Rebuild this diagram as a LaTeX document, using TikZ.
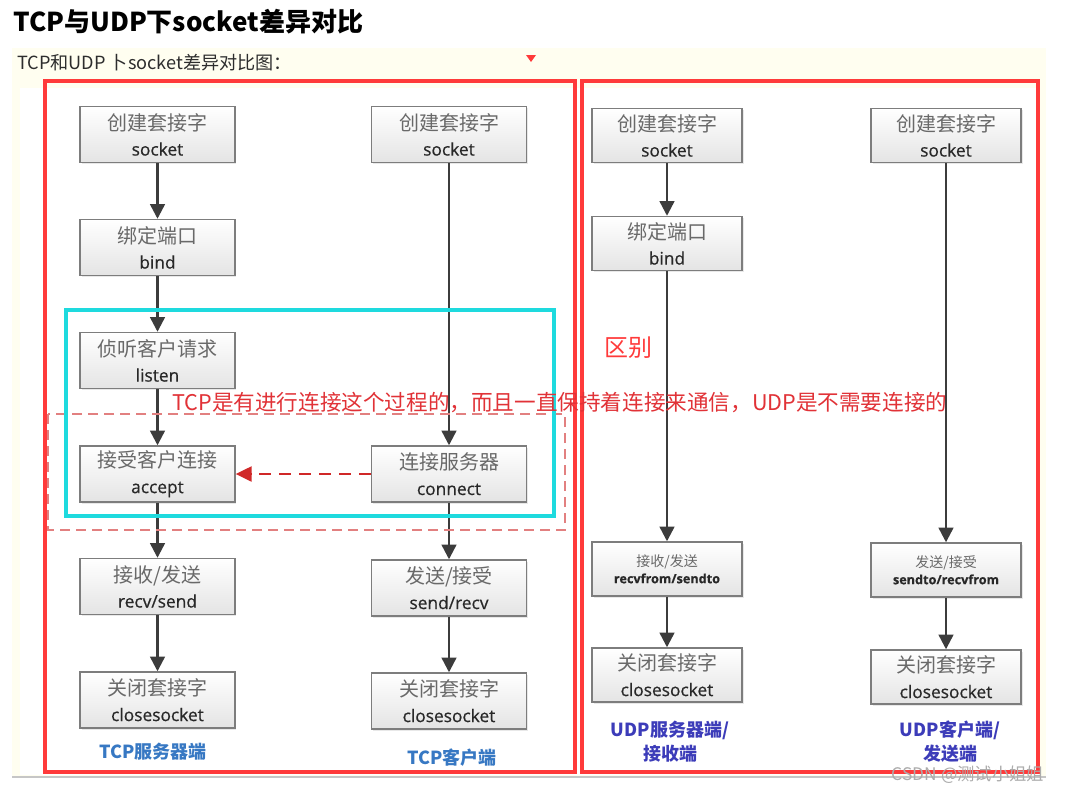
\documentclass[tikz,border=0pt]{standalone}
\usepackage{fontspec}
\setmainfont{Noto Sans CJK SC}
\newfontfamily\latf{Open Sans}[FakeBold=0.6]
\usetikzlibrary{arrows.meta,shadows}
\definecolor{framered}{RGB}{255,58,58}
\definecolor{cream}{RGB}{255,254,240}
\definecolor{cyanc}{RGB}{30,218,222}
\definecolor{pinkd}{RGB}{226,128,128}
\definecolor{dred}{RGB}{208,40,40}
\definecolor{annred}{RGB}{225,50,55}
\definecolor{boxborder}{RGB}{125,125,125}
\definecolor{boxbottom}{RGB}{228,228,228}
\definecolor{cngray}{RGB}{105,105,105}
\definecolor{entext}{RGB}{40,40,40}
\definecolor{arrowc}{RGB}{60,60,60}
\definecolor{tcpblue}{RGB}{55,120,195}
\definecolor{udpblue}{RGB}{60,60,185}
\definecolor{subgray}{RGB}{45,45,45}
\newcommand\cnt[1]{{\color{cngray}#1}}
\newcommand\ent[1]{{\latf\fontsize{13}{19}\selectfont\color{entext}#1}}
\newcommand\cns[1]{{\color{cngray}\fontsize{10.5}{12}\selectfont#1}}
\newcommand\ens[1]{{\latf\bfseries\fontsize{9.5}{12}\selectfont\color{entext}#1}}
\tikzset{
  box/.style={draw=boxborder, line width=1.1pt, top color=white, bottom color=boxbottom,
    minimum width=116pt, minimum height=42pt, inner sep=0pt, align=center,
    drop shadow={opacity=0.18, shadow xshift=1.2pt, shadow yshift=-1.2pt},
    font=\fontsize{15}{19}\selectfont},
  sbox/.style={box, minimum width=112.5pt, minimum height=40.5pt, font=\fontsize{10.5}{12.5}\selectfont},
  arr/.style={draw=arrowc, line width=1.8pt, -{Triangle[width=11pt,length=11pt]}},
  redarr/.style={draw=dred, line width=2.2pt, dash pattern=on 9pt off 6pt, -{Triangle[width=11pt,length=12pt]}},
  collab/.style={font=\bfseries\fontsize{13.5}{18}\selectfont, align=center, inner sep=0pt},
}
\begin{document}
\begin{tikzpicture}[x=0.75pt,y=-0.75pt]
\useasboundingbox (0,0) rectangle (1070,794);
\fill[white] (0,0) rectangle (1070,794);
\fill[cream] (12,48) rectangle (1046,777);
\fill[white] (20,88) rectangle (1040,775);
\draw[gray!45, line width=0.8pt] (12,777) -- (1046,777);

% title and subtitle
\node[anchor=west, inner sep=0pt, font=\bfseries\fontsize{19.5}{22}\selectfont] (title) at (13,22) {TCP与UDP下socket差异对比};
\node[anchor=west, inner sep=0pt, text=subgray, font=\fontsize{13.6}{15}\selectfont] (sub) at (17,63) {TCP和UDP 卜socket差异对比图：};
\fill[framered] (526,55) -- (536,55) -- (531,62) -- cycle;

% TCP server
\node[box] (s1) at (157.5,134.5) {\cnt{创建套接字}\\\ent{socket}};
\node[box] (b1) at (157.5,247.5) {\cnt{绑定端口}\\\ent{bind}};
\node[box] (l1) at (157.5,360.5) {\cnt{侦听客户请求}\\\ent{listen}};
\node[box] (a1) at (157.5,474) {\cnt{接受客户连接}\\\ent{accept}};
\node[box] (r1) at (157.5,586.5) {\cnt{接收/发送}\\\ent{recv/send}};
\node[box] (c1) at (157.5,700) {\cnt{关闭套接字}\\\ent{closesocket}};
% TCP client
\node[box] (s2) at (449,134.5) {\cnt{创建套接字}\\\ent{socket}};
\node[box] (n2) at (449,474) {\cnt{连接服务器}\\\ent{connect}};
\node[box] (r2) at (449,588) {\cnt{发送/接受}\\\ent{send/recv}};
\node[box] (c2) at (449,701) {\cnt{关闭套接字}\\\ent{closesocket}};
% UDP server
\node[sbox, font=\fontsize{15}{19}\selectfont] (s3) at (667,135.5) {\cnt{创建套接字}\\\ent{socket}};
\node[sbox, font=\fontsize{15}{19}\selectfont] (b3) at (667,243.5) {\cnt{绑定端口}\\\ent{bind}};
\node[sbox] (r3) at (667,569) {\cns{接收/发送}\\\ens{recvfrom/sendto}};
\node[sbox, font=\fontsize{15}{19}\selectfont] (c3) at (667,675) {\cnt{关闭套接字}\\\ent{closesocket}};
% UDP client
\node[sbox, font=\fontsize{15}{19}\selectfont] (s4) at (946,135.5) {\cnt{创建套接字}\\\ent{socket}};
\node[sbox] (r4) at (946,570) {\cns{发送/接受}\\\ens{sendto/recvfrom}};
\node[sbox, font=\fontsize{15}{19}\selectfont] (c4) at (946,677) {\cnt{关闭套接字}\\\ent{closesocket}};

% arrows
\draw[arr] (s1) -- (b1);
\draw[arr] (b1) -- (l1);
\draw[arr] (l1) -- (a1);
\draw[arr] (a1) -- (r1);
\draw[arr] (r1) -- (c1);
\draw[arr] (s2) -- (n2);
\draw[arr] (n2) -- (r2);
\draw[arr] (r2) -- (c2);
\draw[arr] (s3) -- (b3);
\draw[arr] (b3) -- (r3);
\draw[arr] (r3) -- (c3);
\draw[arr] (s4) -- (r4);
\draw[arr] (r4) -- (c4);
\draw[redarr] (n2) -- (a1);

% highlight frames
\draw[pinkd, line width=1.5pt, dash pattern=on 7.5pt off 4.5pt] (48,414) rectangle (565,530);
\draw[cyanc, line width=2.3pt] (66,310) rectangle (554,516);
\draw[framered, line width=2.3pt] (45,81) rectangle (575,772);
\draw[framered, line width=2.3pt] (582,81) rectangle (1038,772);

% annotations
\node[text=framered, inner sep=0pt, font=\fontsize{18}{20}\selectfont] (qb) at (628,348) {区别};
\node[anchor=west, inner sep=0pt, text=annred, font=\fontsize{16.2}{18}\selectfont] (note) at (172,403) {TCP是有进行连接这个过程的，而且一直保持着连接来通信，UDP是不需要连接的};

% column labels
\node[collab, text=tcpblue] (lab1) at (153,752) {TCP服务器端};
\node[collab, text=tcpblue] (lab2) at (452,758) {TCP客户端};
\node[collab, text=udpblue] (lab3) at (670,742) {UDP服务器端/\\接收端};
\node[collab, text=udpblue] (lab4) at (950,742) {UDP客户端/\\发送端};

\node[text=gray!65, inner sep=0pt, font=\fontsize{13}{14}\selectfont] (wm) at (968,775) {CSDN @测试小姐姐};
\end{tikzpicture}
\end{document}
